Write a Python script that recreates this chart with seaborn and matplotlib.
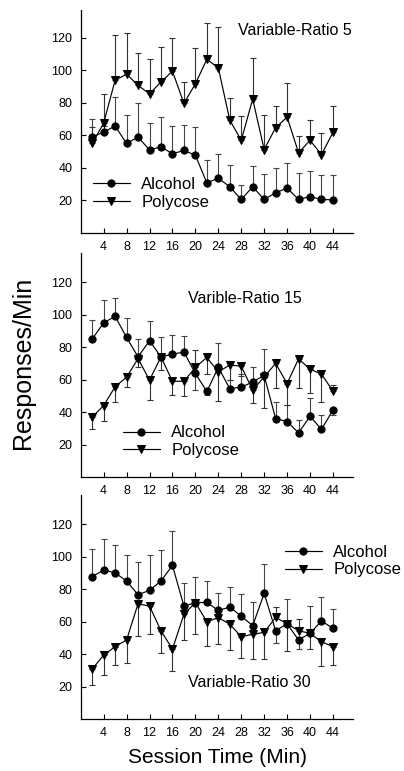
import numpy as np
import matplotlib
matplotlib.use('Agg')
import matplotlib.pyplot as plt
import seaborn as sns

minutes = [2, 4, 6, 8, 10, 12, 14, 16, 18, 20, 22, 24, 26, 28, 30, 32, 34, 36, 38, 40, 42, 44]

# VR 5
alc_vr5 = [59, 62, 65.7, 55, 59, 51, 53, 48.7, 50.7, 47.8, 30.8, 33.7, 28.4, 20.6, 28.4, 20.6, 24.7, 27.6, 20.6, 22.4, 20.6, 20.4]
alc_vr5_err = [11, 4, 18, 17.6, 21, 16.5, 18, 17, 15.4, 17.5, 14, 14.8, 13.5, 8.8, 12.5, 15.8, 15.2, 15.7, 16.2, 15.4, 15.2, 15.1]
poly_vr5 = [55, 67.5, 93.8, 97.6, 90.7, 85.5, 92.7, 99.5, 79.6, 91.7, 106.7, 101.5, 69.4, 56.9, 82.3, 51.3, 64.7, 71.2, 49.3, 56.9, 48.2, 61.8]
poly_vr5_err = [10, 18, 28, 25.4, 20, 21.5, 21.8, 20.3, 13.4, 22, 22.5, 25.3, 13.5, 15, 25.2, 21.3, 13.3, 20.9, 10.2, 12.5, 13.4, 16.2]

# VR 15
alc_vr15 = [85, 95, 99, 86, 74, 84, 74, 75.7, 77, 63.8, 52.7, 67.5, 54.5, 55.3, 58.6, 62.6, 36, 34.2, 27.2, 37.4, 29.4, 41.2]
alc_vr15_err = [12, 14, 11, 12, 11, 12, 12, 12, 10, -10, -2, 15, 5, 8, 9, 16, 10, 10, 8, 11, 9, -3]
poly_vr15 = [37, 44, 55.6, 61.5, 73, 59.7, 74, 59, 59, 67.5, 73.7, 64.8, 69, 68.3, 53.5, 61.7, 70, 57.6, 72.8, 66.5, 63.4, 52.9]
poly_vr15_err = [-7.6, -9.5, -9.3, -6, -5, -12, -8, -8.6, -9, 11, -10, -18, -9, -6, -8, -19, -15, -13, -18, -15, -17, 3.5]

# VR 30
alc_vr30 = [87.7, 91.8, 90.1, 85, 76.6, 79.3, 85, 94.7, 69.6, 71.7, 71.9, 66.9, 69, 63.4, 57.5, 77.4, 54.4, 58.7, 48.7, 52.8, 60.4, 55.9]
alc_vr30_err = [17, 19, 17, 16, 20, 22, 19, 21, 14, 15.6, 13, 11, 12.5, 13.6, 14.8, 18, -7.8, 15, -5.5, 17, 14.6, 12]
poly_vr30 = [30.8, 39.4, 44.6, 48.7, 71, 69.6, 54.4, 43.1, 64.5, 71.7, 60, 62.4, 58.5, 50.7, 52.2, 53.4, 62.6, 58.7, 54.4, 52.8, 47.6, 44.6]
poly_vr30_err = [-10, -12, -11.5, -14, -20, -17, -13.7, -13.3, -16, -19, -15, -16.4, -16, -13.3, -15.4, -16.6, 6.6, -17, 7, -9.7, -14.7, -11.3]

panels = [
    ('Variable-Ratio 5', alc_vr5, alc_vr5_err, poly_vr5, poly_vr5_err),
    ('Varible-Ratio 15', alc_vr15, alc_vr15_err, poly_vr15, poly_vr15_err),
    ('Variable-Ratio 30', alc_vr30, alc_vr30_err, poly_vr30, poly_vr30_err),
]
ytick_vals = [20, 40, 60, 80, 100, 120]
xtick_vals = [4, 8, 12, 16, 20, 24, 28, 32, 36, 40, 44]

sns.set_style('ticks', rc={'axes.edgecolor': 'black', 'text.color': 'black',
                           'axes.labelcolor': 'black', 'xtick.color': 'black',
                           'ytick.color': 'black'})
plt.rcParams['font.family'] = ['Liberation Sans', 'DejaVu Sans']

fig = plt.figure(figsize=(4.04, 7.71), dpi=100)
axes_pos = [
    [0.1998, 0.6978, 0.674, 0.2892],
    [0.1998, 0.3813, 0.674, 0.2905],
    [0.1998, 0.0674, 0.674, 0.2905],
]
ylims = [137, 138, 138]
legend_pos = [(0.045, 0.177), (0.155, 0.158), (0.75, 0.705)]
label_pos = [(0.578, 0.906), (0.394, 0.795), (0.394, 0.165)]


def one_sided(err):
    err = np.asarray(err, dtype=float)
    return [np.clip(-err, 0, None), np.clip(err, 0, None)]


for i, (title, alc, alc_err, poly, poly_err) in enumerate(panels):
    ax = fig.add_axes(axes_pos[i])
    ax.errorbar(minutes, alc, yerr=one_sided(alc_err), fmt='none', ecolor='#444444',
                elinewidth=0.8, capsize=2.5, capthick=0.8, zorder=1)
    ax.errorbar(minutes, poly, yerr=one_sided(poly_err), fmt='none', ecolor='#333333',
                elinewidth=0.8, capsize=2.5, capthick=0.8, zorder=1)
    sns.lineplot(x=minutes, y=alc, ax=ax, color='black', marker='o', markersize=5.2,
                 markeredgecolor='black', linewidth=0.85, label='Alcohol', zorder=3)
    sns.lineplot(x=minutes, y=poly, ax=ax, color='black', marker='v', markersize=5.2,
                 markeredgecolor='black', linewidth=0.85, label='Polycose', zorder=3)

    ax.set_xlim(0, 47.5)
    ax.set_ylim(0, ylims[i])
    ax.set_xticks(xtick_vals)
    ax.set_yticks(ytick_vals)
    ax.tick_params(direction='in', length=3.5, width=0.8, labelsize=9, pad=6)
    ax.set_xlabel('')
    ax.set_ylabel('')
    sns.despine(ax=ax)
    for sp in ['left', 'bottom']:
        ax.spines[sp].set_linewidth(0.9)

    ax.legend(loc='center left', bbox_to_anchor=legend_pos[i], frameon=False,
              fontsize=12, handlelength=2.2, handletextpad=0.7, labelspacing=0.15,
              borderpad=0, borderaxespad=0)
    ax.text(label_pos[i][0], label_pos[i][1], title, transform=ax.transAxes,
            fontsize=11.5, va='center', ha='left')

fig.text(0.057, 0.529, 'Responses/Min', rotation=90, fontsize=18, va='center', ha='center')
fig.text(0.538, 0.018, 'Session Time (Min)', fontsize=15, va='center', ha='center')

fig.savefig('out.png', dpi=100)
